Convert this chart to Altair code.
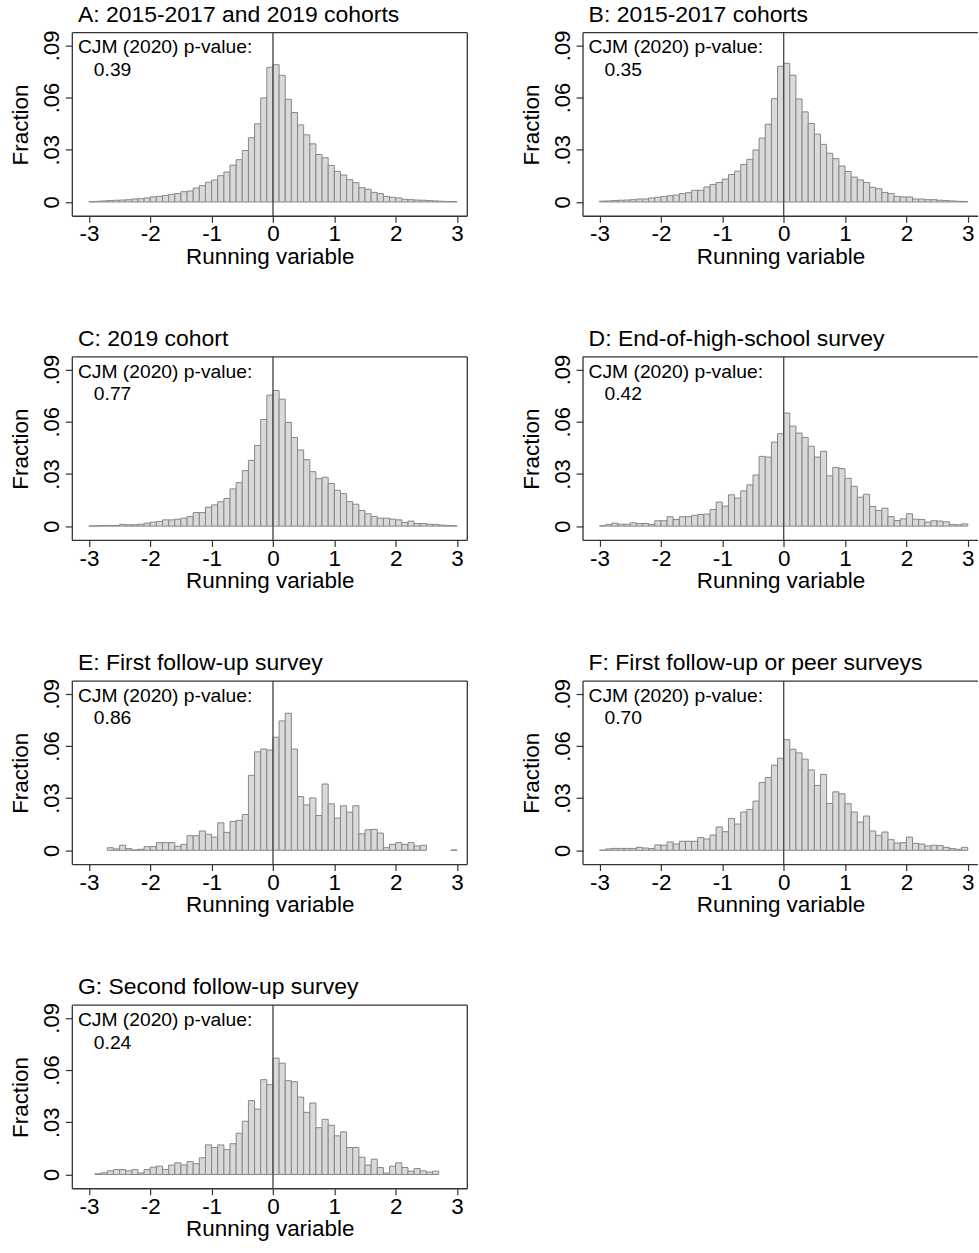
import altair as alt
import numpy as np
import pandas as pd

FONT = "Liberation Sans"

# bin edges (width 0.1 from -3 to 3)
bin_lo = [round(-3 + 0.1 * i, 1) for i in range(60)]
bin_hi = [round(-3 + 0.1 * (i + 1), 1) for i in range(60)]

titles = [
    "A: 2015-2017 and 2019 cohorts",
    "B: 2015-2017 cohorts",
    "C: 2019 cohort",
    "D: End-of-high-school survey",
    "E: First follow-up survey",
    "F: First follow-up or peer surveys",
    "G: Second follow-up survey",
]
pvalues = ["0.39", "0.35", "0.77", "0.42", "0.86", "0.70", "0.24"]

frac_A = [0.0002, 0.0004, 0.0006, 0.0008, 0.0010, 0.0011, 0.0013, 0.0017, 0.0019, 0.0023,
          0.0029, 0.0032, 0.0038, 0.0044, 0.0048, 0.0059, 0.0063, 0.0080, 0.0094, 0.0113,
          0.0126, 0.0151, 0.0172, 0.0212, 0.0243, 0.0296, 0.0369, 0.0449, 0.0598, 0.0774,
          0.0789, 0.0728, 0.0590, 0.0514, 0.0443, 0.0386, 0.0334, 0.0273, 0.0254, 0.0210,
          0.0176, 0.0155, 0.0128, 0.0111, 0.0082, 0.0073, 0.0055, 0.0048, 0.0032, 0.0027,
          0.0023, 0.0015, 0.0013, 0.0011, 0.0010, 0.0008, 0.0006, 0.0004, 0.0003, 0.0002]

frac_B = [0.0005, 0.0006, 0.0008, 0.0010, 0.0011, 0.0013, 0.0017, 0.0017, 0.0023, 0.0027,
          0.0032, 0.0036, 0.0040, 0.0048, 0.0053, 0.0067, 0.0067, 0.0086, 0.0101, 0.0112,
          0.0131, 0.0158, 0.0177, 0.0215, 0.0245, 0.0299, 0.0367, 0.0447, 0.0594, 0.0780,
          0.0797, 0.0729, 0.0592, 0.0518, 0.0451, 0.0390, 0.0331, 0.0280, 0.0249, 0.0207,
          0.0175, 0.0143, 0.0127, 0.0112, 0.0084, 0.0076, 0.0055, 0.0049, 0.0032, 0.0029,
          0.0029, 0.0017, 0.0017, 0.0013, 0.0013, 0.0010, 0.0008, 0.0006, 0.0004, 0.0003]

frac_C = [0.0001, 0.0002, 0.0004, 0.0004, 0.0004, 0.0010, 0.0008, 0.0008, 0.0011, 0.0017,
          0.0023, 0.0027, 0.0036, 0.0036, 0.0040, 0.0046, 0.0055, 0.0078, 0.0078, 0.0109,
          0.0122, 0.0140, 0.0159, 0.0214, 0.0250, 0.0319, 0.0378, 0.0464, 0.0613, 0.0753,
          0.0780, 0.0730, 0.0596, 0.0510, 0.0438, 0.0382, 0.0313, 0.0273, 0.0281, 0.0245,
          0.0206, 0.0187, 0.0141, 0.0126, 0.0090, 0.0071, 0.0055, 0.0046, 0.0046, 0.0040,
          0.0036, 0.0021, 0.0029, 0.0015, 0.0015, 0.0011, 0.0010, 0.0006, 0.0004, 0.0002]

frac_D = [0.0002, 0.0010, 0.0017, 0.0011, 0.0011, 0.0019, 0.0015, 0.0015, 0.0010, 0.0031,
          0.0031, 0.0054, 0.0038, 0.0054, 0.0054, 0.0062, 0.0067, 0.0069, 0.0096, 0.0138,
          0.0115, 0.0180, 0.0161, 0.0203, 0.0237, 0.0294, 0.0401, 0.0397, 0.0483, 0.0531,
          0.0650, 0.0575, 0.0535, 0.0510, 0.0459, 0.0397, 0.0430, 0.0289, 0.0338, 0.0331,
          0.0275, 0.0229, 0.0166, 0.0183, 0.0113, 0.0090, 0.0103, 0.0055, 0.0032, 0.0042,
          0.0071, 0.0040, 0.0038, 0.0023, 0.0031, 0.0029, 0.0025, 0.0010, 0.0008, 0.0013]

frac_E = [0.0, 0.0, 0.0, 0.0015, 0.0008, 0.0029, 0.0010, 0.0002, 0.0006, 0.0021,
          0.0021, 0.0044, 0.0044, 0.0044, 0.0023, 0.0034, 0.0084, 0.0084, 0.0111, 0.0092,
          0.0076, 0.0158, 0.0103, 0.0166, 0.0172, 0.0206, 0.0431, 0.0566, 0.0582, 0.0576,
          0.0650, 0.0744, 0.0788, 0.0582, 0.0309, 0.0261, 0.0301, 0.0200, 0.0381, 0.0267,
          0.0185, 0.0256, 0.0219, 0.0256, 0.0095, 0.0118, 0.0120, 0.0099, 0.0015, 0.0034,
          0.0044, 0.0034, 0.0044, 0.0025, 0.0029, 0.0, 0.0, 0.0, 0.0, 0.0002]

frac_F = [0.0001, 0.0008, 0.0011, 0.0011, 0.0011, 0.0011, 0.0017, 0.0013, 0.0010, 0.0031,
          0.0029, 0.0048, 0.0036, 0.0052, 0.0052, 0.0052, 0.0073, 0.0065, 0.0088, 0.0134,
          0.0107, 0.0183, 0.0151, 0.0220, 0.0235, 0.0283, 0.0390, 0.0418, 0.0489, 0.0529,
          0.0636, 0.0581, 0.0560, 0.0524, 0.0462, 0.0373, 0.0436, 0.0269, 0.0336, 0.0325,
          0.0268, 0.0220, 0.0162, 0.0197, 0.0111, 0.0086, 0.0105, 0.0061, 0.0042, 0.0044,
          0.0076, 0.0040, 0.0036, 0.0025, 0.0029, 0.0027, 0.0017, 0.0010, 0.0006, 0.0017]

frac_G = [0.0, 0.0004, 0.0010, 0.0021, 0.0028, 0.0028, 0.0021, 0.0028, 0.0009, 0.0028,
          0.0042, 0.0048, 0.0029, 0.0054, 0.0067, 0.0055, 0.0074, 0.0062, 0.0096, 0.0170,
          0.0155, 0.0170, 0.0143, 0.0177, 0.0237, 0.0306, 0.0425, 0.0376, 0.0545, 0.0516,
          0.0669, 0.0640, 0.0539, 0.0533, 0.0445, 0.0357, 0.0411, 0.0269, 0.0317, 0.0283,
          0.0222, 0.0245, 0.0155, 0.0155, 0.0099, 0.0054, 0.0088, 0.0040, 0.0008, 0.0048,
          0.0067, 0.0040, 0.0019, 0.0034, 0.0021, 0.0013, 0.0019, 0.0, 0.0, 0.0]

series = [frac_A, frac_B, frac_C, frac_D, frac_E, frac_F, frac_G]

W, H = 396, 184
BAR_FILL = "#d9d9d9"
BAR_STROKE = "#878787"
FRAME = "#333333"

xscale = alt.Scale(domain=[-3.27, 3.167], nice=False, zero=False)
yscale = alt.Scale(domain=[-0.0082, 0.0973], nice=False, zero=False)

xaxis = alt.Axis(
    values=[-3, -2, -1, 0, 1, 2, 3], labelExpr="datum.value + ''",
    title="Running variable", domain=False, grid=False,
    tickSize=6, tickColor=FRAME, tickWidth=1.2,
    labelFont=FONT, labelFontSize=22.5, labelColor="black",
    labelBaseline="alphabetic", labelPadding=18.7, labelFlush=False, labelOverlap=False,
    titleFont=FONT, titleFontSize=22.5, titleFontWeight="normal", titleColor="black",
    titleY=47.3, titleBaseline="alphabetic",
)
yaxis = alt.Axis(
    values=[0, 0.03, 0.06, 0.09],
    labelExpr="datum.value == 0 ? '0' : replace(format(datum.value, '.2f'), '0.', '.')",
    title="Fraction", domain=False, grid=False,
    tickSize=7, tickColor=FRAME, tickWidth=1.2,
    labelFont=FONT, labelFontSize=22, labelColor="black", labelAngle=270,
    labelAlign="center", labelBaseline="alphabetic", labelPadding=6.5,
    labelFlush=False, labelOverlap=False,
    titleFont=FONT, titleFontSize=22.5, titleFontWeight="normal", titleColor="black",
    titleAngle=270, titleX=-45, titleY=H / 2, titleAlign="center", titleBaseline="alphabetic",
)

one = pd.DataFrame({"k": [0]})


def panel(title, vals, pval, right_edge=True):
    df = pd.DataFrame({"lo": bin_lo, "hi": bin_hi, "frac": vals})
    bars = alt.Chart(df).transform_filter("datum.frac > 0").mark_rect(
        fill=BAR_FILL, stroke=BAR_STROKE, strokeWidth=1
    ).encode(
        x=alt.X("lo:Q", scale=xscale, axis=xaxis),
        x2="hi:Q",
        y=alt.Y("frac:Q", scale=yscale, axis=yaxis),
        y2=alt.datum(0),
    )
    zero = alt.Chart(one).mark_rule(color="#4d4d4d", strokeWidth=1.4).encode(
        x=alt.datum(0), y=alt.value(0), y2=alt.value(H)
    )
    t1 = alt.Chart(pd.DataFrame({"t": ["CJM (2020) p-value:"]})).mark_text(
        align="left", baseline="alphabetic", font=FONT, fontSize=19.3, color="black"
    ).encode(text="t:N", x=alt.value(5.6), y=alt.value(20.7))
    t2 = alt.Chart(pd.DataFrame({"t": [pval]})).mark_text(
        align="left", baseline="alphabetic", font=FONT, fontSize=19.3, color="black"
    ).encode(text="t:N", x=alt.value(21.6), y=alt.value(43.5))
    fr = dict(color=FRAME, strokeWidth=1.3)
    top = alt.Chart(one).mark_rule(**fr).encode(x=alt.value(0), x2=alt.value(W), y=alt.value(0))
    bot = alt.Chart(one).mark_rule(**fr).encode(x=alt.value(0), x2=alt.value(W), y=alt.value(H))
    lef = alt.Chart(one).mark_rule(**fr).encode(x=alt.value(0), y=alt.value(0), y2=alt.value(H))
    layers = [bars, zero, t1, t2, top, bot, lef]
    if right_edge:
        layers.append(
            alt.Chart(one).mark_rule(**fr).encode(x=alt.value(W), y=alt.value(0), y2=alt.value(H))
        )
    return alt.layer(*layers).properties(
        width=W, height=H,
        title=alt.TitleParams(
            title, anchor="start", frame="group", font=FONT, fontSize=23,
            fontWeight="normal", color="black", dx=5.6, offset=-14.4, baseline="alphabetic",
        ),
    )


panels = [panel(titles[i], series[i], pvalues[i], right_edge=(i % 2 == 0)) for i in range(7)]

chart = alt.vconcat(
    alt.hconcat(panels[0], panels[1], spacing=52),
    alt.hconcat(panels[2], panels[3], spacing=52),
    alt.hconcat(panels[4], panels[5], spacing=52),
    panels[6],
    spacing=59,
).properties(
    padding={"left": 9.5, "top": 1.2, "right": 0, "bottom": 0},
    background="white",
).configure_view(stroke=None)

chart.save("out.html", embed_options={"renderer": "svg", "actions": False})
